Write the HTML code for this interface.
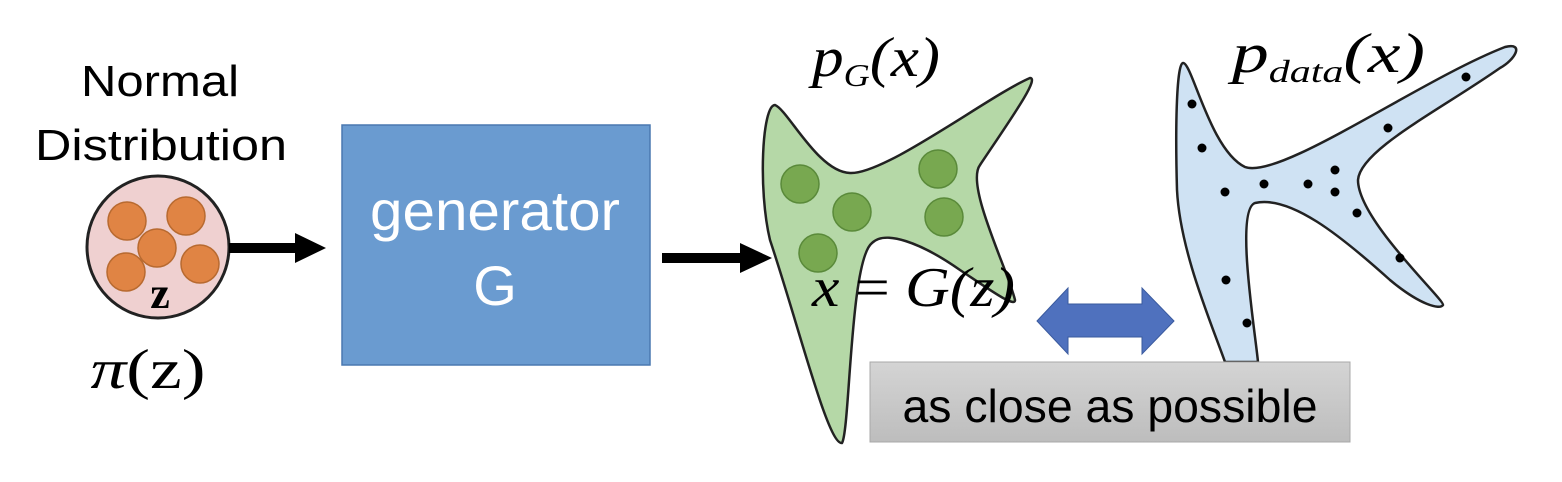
<!DOCTYPE html>
<html><head><meta charset="utf-8"><style>
html,body{margin:0;padding:0;background:#fff;}
svg{display:block;}
.s{font-family:"Liberation Sans",sans-serif;}
.m{font-family:"Liberation Serif",serif;font-style:italic;}
</style></head><body>
<svg width="1562" height="482" viewBox="0 0 1562 482" xmlns="http://www.w3.org/2000/svg">
<defs>
<linearGradient id="g" x1="0" y1="0" x2="0" y2="1"><stop offset="0" stop-color="#d4d4d4"/><stop offset="1" stop-color="#bdbdbd"/></linearGradient>
</defs>
<!-- left -->
<text x="160" y="96" font-size="44" text-anchor="middle" class="s" textLength="158" lengthAdjust="spacingAndGlyphs">Normal</text>
<text x="161" y="160" font-size="44" text-anchor="middle" class="s" textLength="252" lengthAdjust="spacingAndGlyphs">Distribution</text>
<circle cx="158" cy="247" r="71" fill="#efd0d0" stroke="#222" stroke-width="3"/>
<g fill="#e08444" stroke="#b86a30" stroke-width="1.5">
<circle cx="127" cy="221" r="19"/><circle cx="186" cy="216" r="19"/><circle cx="157" cy="248" r="19"/><circle cx="126" cy="272" r="19"/><circle cx="200" cy="264" r="19"/>
</g>
<text x="160" y="308" font-size="44" text-anchor="middle" font-family="Liberation Serif,serif" font-weight="bold">z</text>
<text x="148" y="388" font-size="56" text-anchor="middle" class="m" textLength="115" lengthAdjust="spacingAndGlyphs">π<tspan font-style="normal">(z)</tspan></text>
<!-- arrow1 -->
<rect x="229" y="243" width="68" height="10" fill="#000"/>
<polygon points="295,233 326,248 295,263" fill="#000"/>
<!-- generator -->
<rect x="342" y="125" width="308" height="240" fill="#6a9bd0" stroke="#4a78b0" stroke-width="1.5"/>
<text x="495" y="230" font-size="56" fill="#fff" text-anchor="middle" class="s" textLength="250" lengthAdjust="spacingAndGlyphs">generator</text>
<text x="495" y="305" font-size="56" fill="#fff" text-anchor="middle" class="s">G</text>
<!-- arrow2 -->
<rect x="662" y="253" width="80" height="10" fill="#000"/>
<polygon points="740,243 772,258 740,273" fill="#000"/>
<!-- green -->
<path d="M775,105 C788,110 818,172 850,173 C885,175 990,95 1030,78 C1040,78 1010,120 980,165 C965,185 1008,270 1015,300 C1015,308 990,290 960,270 C920,242 885,230 872,243 C850,260 850,430 842,443 C828,445 800,330 770,240 C758,190 762,105 775,105 Z" fill="#b5d8a7" stroke="#222" stroke-width="2.5"/>
<g fill="#78a850" stroke="#5a8a3a" stroke-width="1.5">
<circle cx="800" cy="184" r="19"/><circle cx="852" cy="212" r="19"/><circle cx="938" cy="169" r="19"/><circle cx="944" cy="217" r="19"/><circle cx="818" cy="253" r="19"/>
</g>
<text x="812" y="76" font-size="56" class="m" textLength="128" lengthAdjust="spacingAndGlyphs">p<tspan font-size="32" dy="10">G</tspan><tspan dy="-10">(x)</tspan></text>
<text x="812" y="306" font-size="56" class="m" textLength="203" lengthAdjust="spacingAndGlyphs">x <tspan font-style="normal">=</tspan> G(z)</text>
<!-- blue -->
<path d="M1183,63 C1192,62 1210,150 1245,167 C1280,180 1420,80 1505,47 C1525,42 1515,60 1500,68 C1440,110 1360,150 1358,180 C1358,220 1445,300 1443,305 C1440,310 1420,305 1390,280 C1340,235 1290,195 1255,203 C1235,210 1255,330 1258,362 L1225,362 C1210,320 1180,250 1177,190 C1175,120 1177,63 1183,63 Z" fill="#cfe2f3" stroke="#222" stroke-width="2.5"/>
<g fill="#000">
<circle cx="1192" cy="104" r="4.5"/><circle cx="1202" cy="148" r="4.5"/><circle cx="1225" cy="192" r="4.5"/><circle cx="1264" cy="184" r="4.5"/><circle cx="1308" cy="184" r="4.5"/><circle cx="1335" cy="170" r="4.5"/><circle cx="1335" cy="192" r="4.5"/><circle cx="1357" cy="213" r="4.5"/><circle cx="1388" cy="128" r="4.5"/><circle cx="1400" cy="258" r="4.5"/><circle cx="1466" cy="77" r="4.5"/><circle cx="1226" cy="280" r="4.5"/><circle cx="1247" cy="323" r="4.5"/>
</g>
<text x="1232" y="72" font-size="56" class="m" textLength="193" lengthAdjust="spacingAndGlyphs">p<tspan font-size="32" dy="10">data</tspan><tspan dy="-10">(x)</tspan></text>
<!-- double arrow -->
<polygon points="1037,321 1068,288 1068,304 1142,304 1142,288 1174,321 1142,354 1142,337 1068,337 1068,354" fill="#4f71be" stroke="#3a5a9e" stroke-width="1"/>
<!-- gray box -->
<rect x="870" y="362" width="480" height="80" fill="url(#g)" stroke="#a8a8a8" stroke-width="1"/>
<text x="1110" y="422" font-size="46" text-anchor="middle" class="s" textLength="415" lengthAdjust="spacingAndGlyphs">as close as possible</text>
</svg>
</body></html>
